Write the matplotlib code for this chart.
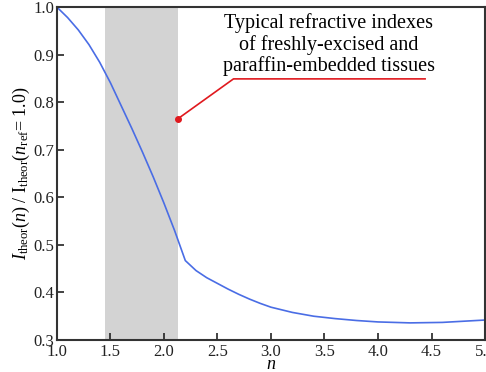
import matplotlib.pyplot as plt

plt.rcParams['font.family'] = ['Liberation Serif', 'DejaVu Serif']
plt.rcParams['mathtext.fontset'] = 'custom'
plt.rcParams['mathtext.rm'] = 'Liberation Serif'
plt.rcParams['mathtext.it'] = 'Liberation Serif:italic'

# Curve
n_vals = [1.0, 1.1, 1.2, 1.3, 1.4, 1.5, 1.6, 1.7, 1.8, 1.9, 2.0, 2.1, 2.2,
          2.3, 2.4, 2.5, 2.6, 2.7, 2.8, 2.9, 3.0, 3.2, 3.4, 3.6, 3.8, 4.0,
          4.3, 4.6, 5.0]
ratio = [1.000, 0.978, 0.952, 0.921, 0.884, 0.841, 0.793, 0.745, 0.695,
         0.643, 0.588, 0.530, 0.467, 0.446, 0.431, 0.419, 0.407, 0.396,
         0.386, 0.377, 0.369, 0.358, 0.350, 0.345, 0.341, 0.338, 0.336,
         0.337, 0.342]

band = (1.45, 2.13)
marker_pt = (2.13, 0.765)
elbow_pt = (2.65, 0.849)
line_end_x = 4.44
note = "Typical refractive indexes\nof freshly-excised and\nparaffin-embedded tissues"

fig = plt.figure(figsize=(4.86, 3.72), dpi=100)
ax = fig.add_axes([0.117, 0.086, 0.881, 0.895])

ax.axvspan(band[0], band[1], color='#d3d3d3', lw=0)
ax.plot(n_vals, ratio, color='#4a6de5', lw=1.2)

# annotation leader
ax.plot([marker_pt[0], elbow_pt[0], line_end_x],
        [marker_pt[1], elbow_pt[1], elbow_pt[1]], color='#e0191e', lw=1.2)
ax.plot(*marker_pt, 'o', color='#e0191e', ms=4)
ax.text(3.54, 0.921, note, ha='center', va='center', fontsize=14.5,
        linespacing=1.1)

ax.set_xlim(1.0, 5.0)
ax.set_ylim(0.3, 1.0)
ax.set_xticks([1.0, 1.5, 2.0, 2.5, 3.0, 3.5, 4.0, 4.5, 5.0])
ax.set_yticks([0.3, 0.4, 0.5, 0.6, 0.7, 0.8, 0.9, 1.0])
ax.tick_params(direction='in', length=5, width=1.2, labelsize=12,
               colors='#222222')
ax.tick_params(axis='x', pad=3)
ax.tick_params(axis='y', pad=2)
for s in ax.spines.values():
    s.set_linewidth(1.5)
    s.set_color('#333333')

ax.set_xlabel('$n$', fontsize=13, labelpad=-3)
ax.set_ylabel(r'$I_{\mathrm{theor}}(n)$ / I$_{\mathrm{theor}}$($n_{\mathrm{ref}}$= 1.0)',
              fontsize=13, labelpad=1)

fig.savefig('out.png', dpi=100)
